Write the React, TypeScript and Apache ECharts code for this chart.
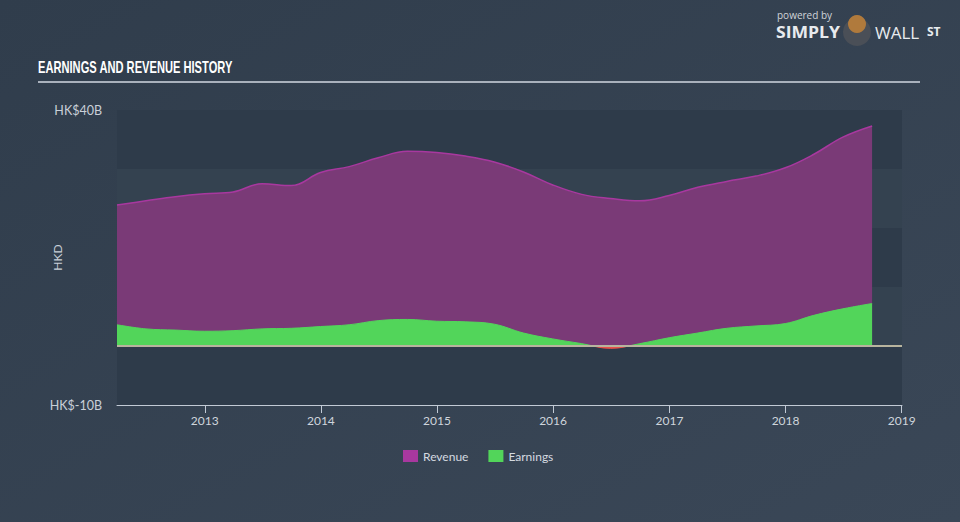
import React, { useEffect, useRef } from "react";
import * as echarts from "echarts";

const dates = [
  "2012-03-31", "2012-06-30", "2012-09-30", "2012-12-31",
  "2013-03-31", "2013-06-30", "2013-09-30", "2013-12-31",
  "2014-03-31", "2014-06-30", "2014-09-30", "2014-12-31",
  "2015-03-31", "2015-06-30", "2015-09-30", "2015-12-31",
  "2016-03-31", "2016-06-30", "2016-09-30", "2016-12-31",
  "2017-03-31", "2017-06-30", "2017-09-30", "2017-12-31",
  "2018-03-31", "2018-06-30", "2018-09-30",
];

const revenue = [
  23.9, 24.6, 25.3, 25.8,
  26.1, 27.5, 27.2, 29.4,
  30.4, 31.9, 33.0, 32.8,
  32.2, 31.2, 29.5, 27.3,
  25.7, 25.0, 24.6, 25.5,
  26.9, 27.9, 28.8, 30.2,
  32.5, 35.4, 37.3,
];

const earnings = [
  3.6, 2.9, 2.7, 2.5,
  2.6, 2.9, 3.0, 3.3,
  3.6, 4.3, 4.5, 4.2,
  4.1, 3.7, 2.2, 1.2,
  0.4, -0.4, 0.4, 1.4,
  2.2, 3.0, 3.4, 3.8,
  5.2, 6.3, 7.2,
];

const yTickLabels: Record<number, string> = { 40: "HK$40B", [-10]: "HK$-10B" };

export default function App() {
  const ref = useRef<HTMLDivElement>(null);
  useEffect(() => {
    if (!ref.current) return;
    const chart = echarts.init(ref.current, null, { renderer: "svg" });
    const revData = dates.map((d, i) => [d, revenue[i]]);
    const earnData = dates.map((d, i) => [d, earnings[i]]);
    chart.setOption({
      animation: false,
      backgroundColor: new echarts.graphic.LinearGradient(0, 0, 1, 1, [
        { offset: 0, color: "#303d4c" },
        { offset: 1, color: "#3a4757" },
      ]),
      grid: { left: 117, right: 58, top: 110, bottom: 117, containLabel: false },
      legend: {
        bottom: 55,
        left: 398,
        icon: "rect",
        itemWidth: 15,
        itemHeight: 12,
        itemGap: 20,
        textStyle: { color: "#d5dae0", fontSize: 12, fontFamily: "Lato, 'Open Sans', sans-serif" },
        data: ["Revenue", "Earnings"],
      },
      visualMap: {
        type: "piecewise",
        show: false,
        seriesIndex: 1,
        dimension: 1,
        pieces: [
          { gte: -10, lt: 0, color: "#e8504a" },
          { gte: 0, lte: 50, color: "#52d55a" },
        ],
      },
      xAxis: {
        type: "time",
        min: "2012-03-31",
        max: "2019-01-02",
        splitNumber: 7,
        axisLine: { show: true, onZero: false, lineStyle: { color: "#c2cad5", width: 1 } },
        axisTick: { show: true, length: 8, lineStyle: { color: "#c2cad5" } },
        axisLabel: {
          color: "#cfd5dc",
          fontSize: 12,
          fontFamily: "Lato, 'Open Sans', sans-serif",
          formatter: "{yyyy}",
          margin: 9,
          hideOverlap: true,
        },
        splitLine: { show: false },
      },
      yAxis: {
        type: "value",
        min: -10,
        max: 40,
        interval: 10,
        name: "HKD",
        nameLocation: "middle",
        nameGap: 54,
        nameMoveOverlap: false,
        nameTextStyle: { color: "#c9d0d8", fontSize: 12, fontFamily: "Lato, 'Open Sans', sans-serif" },
        axisLine: { show: false },
        axisTick: { show: false },
        axisLabel: {
          color: "#c9d0d8",
          fontSize: 12.5,
          fontFamily: "Lato, 'Open Sans', sans-serif",
          margin: 15,
          formatter: (v: number) => yTickLabels[v] ?? "",
        },
        splitLine: { show: false },
        splitArea: {
          show: true,
          areaStyle: { color: ["#2e3b4a", "#344250"] },
        },
      },
      series: [
        {
          name: "Revenue",
          type: "line",
          data: revData,
          smooth: 0.4,
          symbol: "none",
          itemStyle: { color: "#a8389f" },
          lineStyle: { color: "#a8389f", width: 1.5 },
          areaStyle: { color: "#7a3a77", opacity: 1 },
          z: 2,
          markLine: {
            silent: true,
            symbol: "none",
            label: { show: false },
            lineStyle: { color: "#b8b49e", width: 2, type: "solid" },
            data: [{ yAxis: 0 }],
          },
        },
        {
          name: "Earnings",
          type: "line",
          data: earnData,
          smooth: 0.4,
          symbol: "none",
          itemStyle: { color: "#52d55a" },
          lineStyle: { width: 1 },
          areaStyle: { opacity: 1 },
          z: 3,
        },
      ],
      graphic: [
        {
          type: "text",
          x: 38,
          y: 59,
          scaleX: 0.655,
          style: {
            text: "EARNINGS AND REVENUE HISTORY",
            fill: "#ffffff",
            fontSize: 17,
            fontWeight: "bold",
            fontFamily: "'Liberation Sans', sans-serif",
          },
        },
        {
          type: "rect",
          shape: { x: 38, y: 81, width: 882, height: 2 },
          style: { fill: "#a9b1bc" },
        },
        {
          type: "text",
          x: 777,
          y: 9,
          style: { text: "powered by", fill: "#d0d4d9", fontSize: 10, lineHeight: 11, fontFamily: "'Open Sans', sans-serif" },
        },
        {
          type: "text",
          x: 776,
          y: 24,
          scaleX: 1.1,
          style: { text: "SIMPLY", fill: "#e8ebee", fontSize: 16, lineHeight: 16, fontWeight: "bold", fontFamily: "'Open Sans', sans-serif" },
        },
        {
          type: "circle",
          shape: { cx: 857, cy: 32, r: 14 },
          style: { fill: "#4a4f57" },
        },
        {
          type: "circle",
          shape: { cx: 857, cy: 24, r: 9 },
          style: { fill: "#b07a3c" },
        },
        {
          type: "text",
          x: 875,
          y: 24,
          style: { text: "WALL", fill: "#e8ebee", fontSize: 17, lineHeight: 17, fontFamily: "'Open Sans', sans-serif" },
        },
        {
          type: "text",
          x: 927,
          y: 24,
          style: { text: "ST", fill: "#e8ebee", fontSize: 12, lineHeight: 14, fontWeight: "bold", textDecoration: "underline", fontFamily: "'Open Sans', sans-serif" },
        },
      ],
    });
    return () => chart.dispose();
  }, []);
  return (
    <div
      ref={ref}
      style={{ position: "absolute", left: 0, top: 0, width: 960, height: 522 }}
    />
  );
}
